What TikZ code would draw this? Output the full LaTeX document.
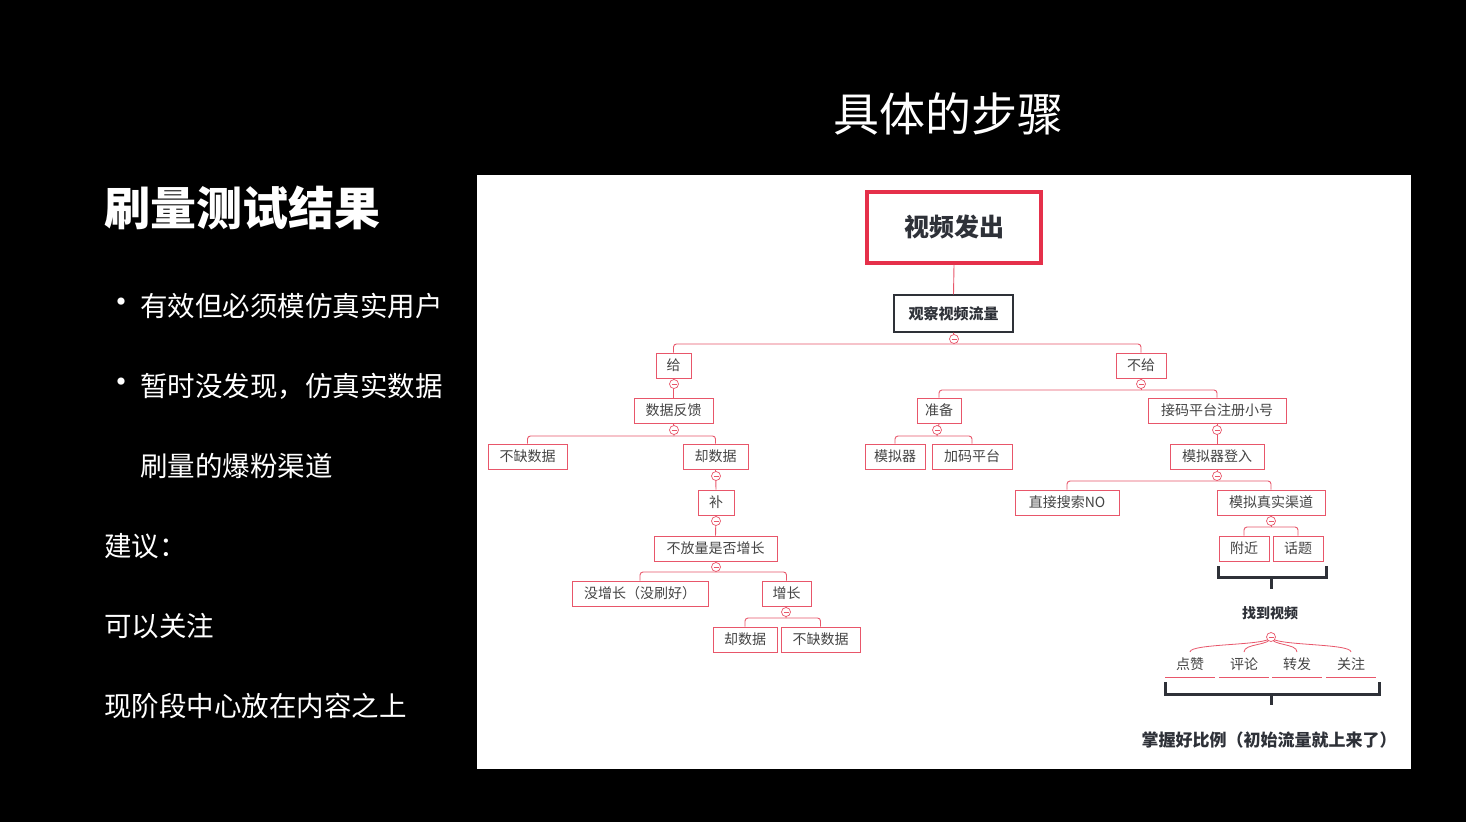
\documentclass[tikz,border=0pt]{standalone}
\usepackage{fontspec}
\setmainfont{Noto Sans CJK SC}
\newfontfamily\cjkb{Noto Sans CJK SC Black}
\definecolor{rd}{HTML}{E8566A}
\definecolor{rdk}{HTML}{E5304A}
\definecolor{tx}{HTML}{444444}
\definecolor{dk}{HTML}{2E3138}
\begin{document}
\begin{tikzpicture}[x=1pt,y=-1pt,
 bx/.style={draw=rd,line width=1pt,text=tx,font=\fontsize{14}{14}\selectfont,inner sep=0pt,anchor=center,minimum height=25pt},
 ln/.style={draw=rd,line width=0.9pt,rounded corners=3pt},
 cc/.style={circle,draw=rd,line width=0.7pt,fill=white,inner sep=0pt,minimum size=9pt,path picture={\draw[rd,line width=0.6pt] ([xshift=-2.5pt]path picture bounding box.center) -- ([xshift=2.5pt]path picture bounding box.center);}},
 br/.style={draw=dk,line width=3pt},
 wt/.style={text=white,anchor=west,font=\fontsize{27.5}{27.5}\selectfont,inner sep=0pt}]
\fill[black] (0,0) rectangle (1466,822);
\useasboundingbox (0,0) rectangle (1466,822);
\fill[white] (477,175) rectangle (1411,769);
\node[text=white,font=\fontsize{46}{46}\selectfont,inner sep=0pt] (ttl) at (948,114) {具体的步骤};
\node[text=white,anchor=west,inner sep=0pt,font=\cjkb\fontsize{46}{46}\selectfont] (hd) at (104,208) {刷量测试结果};
\node[wt,font=\fontsize{34}{34}\selectfont] (b1d) at (104,306) {•};
\node[wt] (b1) at (140,306) {有效但必须模仿真实用户};
\node[wt,font=\fontsize{34}{34}\selectfont] (b2d) at (104,386) {•};
\node[wt] (b2) at (140,386) {暂时没发现，仿真实数据};
\node[wt] (b3) at (140,466) {刷量的爆粉渠道};
\node[wt] (s1) at (104,546) {建议：};
\node[wt] (s2) at (104,626) {可以关注};
\node[wt] (s3) at (104,706) {现阶段中心放在内容之上};
% root
\node[draw=rdk,line width=4pt,minimum width=174pt,minimum height=71pt,text=dk,font=\bfseries\fontsize{25}{25}\selectfont] (root) at (954,227) {视频发出};
\node[draw=dk,line width=1.3pt,minimum width=119pt,minimum height=37pt,text=dk,font=\bfseries\fontsize{15}{15}\selectfont] (obs) at (953.5,313.5) {观察视频流量};
\draw[rd,line width=0.9pt] (root.south) -- (obs.north);
\node[bx,minimum width=35pt] (gei) at (673.5,365.5) {给};
\node[bx,minimum width=50pt] (bugei) at (1141,365.5) {不给};
\node[bx,minimum width=79pt] (sjfk) at (673.5,410.5) {数据反馈};
\node[bx,minimum width=44pt] (zb) at (939,410.5) {准备};
\node[bx,minimum width=138pt] (jm) at (1217,410.5) {接码平台注册小号};
\node[bx,minimum width=79pt] (bq1) at (527.5,456.5) {不缺数据};
\node[bx,minimum width=65pt] (qsj1) at (715.5,456.5) {却数据};
\node[bx,minimum width=60pt] (mnq) at (895,456.5) {模拟器};
\node[bx,minimum width=80pt] (jmpt) at (972,456.5) {加码平台};
\node[bx,minimum width=94pt] (mndr) at (1217,456.5) {模拟器登入};
\node[bx,minimum width=36pt] (bu) at (716,502.5) {补};
\node[bx,minimum width=104pt] (zjss) at (1067,502.5) {直接搜索NO};
\node[bx,minimum width=108pt] (mnzs) at (1271,502.5) {模拟真实渠道};
\node[bx,minimum width=123pt] (bfl) at (715.5,548.5) {不放量是否增长};
\node[bx,minimum width=50pt] (fj) at (1244,548.5) {附近};
\node[bx,minimum width=50pt] (ht) at (1298,548.5) {话题};
\node[bx,minimum width=136pt] (mzz) at (640,593.5) {没增长（没刷好）};
\node[bx,minimum width=49pt] (zz) at (786.5,593.5) {增长};
\node[bx,minimum width=64pt] (qsj2) at (745,639.5) {却数据};
\node[bx,minimum width=79pt] (bq2) at (820.5,639.5) {不缺数据};
% connectors
\draw[ln] (gei.north) |- (bugei.north |- 0,344) -- (bugei.north);
\draw[rd,line width=0.9pt] (obs.south) -- (954,344);
\draw[rd,line width=0.9pt] (gei.south) -- (sjfk.north);
\draw[ln] (zb.north) |- (jm.north |- 0,390) -- (jm.north);
\draw[rd,line width=0.9pt] (bugei.south) -- (1141,390);
\draw[ln] (bq1.north) |- (qsj1.north |- 0,436) -- (qsj1.north);
\draw[rd,line width=0.9pt] (sjfk.south) -- (674,436);
\draw[ln] (mnq.north) |- (jmpt.north |- 0,436) -- (jmpt.north);
\draw[rd,line width=0.9pt] (zb.south) -- (937,436);
\draw[rd,line width=0.9pt] (jm.south) -- (mndr.north);
\draw[rd,line width=0.9pt] (qsj1.south) -- (bu.north);
\draw[rd,line width=0.9pt] (bu.south) -- (bfl.north);
\draw[ln] (zjss.north) |- (mnzs.north |- 0,481) -- (mnzs.north);
\draw[rd,line width=0.9pt] (mndr.south) -- (1217,481);
\draw[ln] (fj.north) |- (ht.north |- 0,527) -- (ht.north);
\draw[rd,line width=0.9pt] (mnzs.south) -- (1271,527);
\draw[ln] (mzz.north) |- (zz.north |- 0,572) -- (zz.north);
\draw[rd,line width=0.9pt] (bfl.south) -- (716,572);
\draw[ln] (qsj2.north) |- (bq2.north |- 0,618) -- (bq2.north);
\draw[rd,line width=0.9pt] (zz.south) -- (786,618);
\foreach \p in {(954,339),(674,384),(1141,384),(674,430),(937,430),(1217,430),(716,476),(1217,476),(716,521),(1271,521),(716,567),(786,612)}
  \node[cc] at \p {};
% brackets
\draw[br] (1218,566) -- (1218,577) -- (1326,577) -- (1326,566);
\draw[br] (1271,577) -- (1271,589);
\node[text=dk,font=\bfseries\fontsize{14}{14}\selectfont] (zdsp) at (1270,613) {找到视频};
\coordinate (c3) at (1271,637);
\node[text=tx,font=\fontsize{14}{14}\selectfont] (dz) at (1190,664) {点赞};
\node[text=tx,font=\fontsize{14}{14}\selectfont] (pl) at (1244,664) {评论};
\node[text=tx,font=\fontsize{14}{14}\selectfont] (zf) at (1297,664) {转发};
\node[text=tx,font=\fontsize{14}{14}\selectfont] (gz) at (1351,664) {关注};
\foreach \n/\x in {dz/1190,pl/1244,zf/1297,gz/1351}{
  \draw[rd,line width=0.8pt] (c3) .. controls (1271,646) and (\x,643) .. (\x,652);
  \draw[rd,line width=0.8pt] (\x-25,677) -- (\x+25,677);}
\node[cc] at (c3) {};
\draw[br] (1165,682) -- (1165,694) -- (1379,694) -- (1379,682);
\draw[br] (1271,694) -- (1271,705);
\node[text=dk,font=\bfseries\fontsize{17}{17}\selectfont] (zw) at (1269,740) {掌握好比例（初始流量就上来了）};
\end{tikzpicture}
\end{document}
